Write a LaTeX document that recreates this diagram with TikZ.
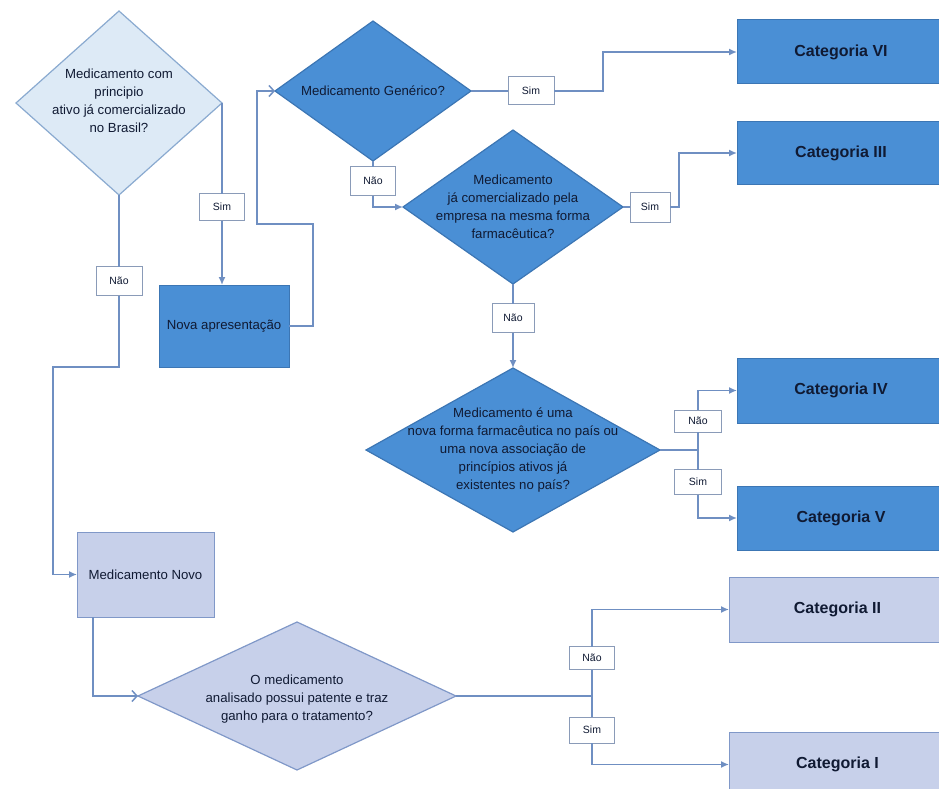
\documentclass[tikz,border=0pt]{standalone}
\usepackage{fontspec}
\setmainfont{Liberation Sans}
\usetikzlibrary{shapes.geometric,arrows.meta}
\definecolor{lightfill}{HTML}{DDEAF6}
\definecolor{lightborder}{HTML}{8AAAD0}
\definecolor{midfill}{HTML}{4A8FD5}
\definecolor{midborder}{HTML}{3C76B4}
\definecolor{lavfill}{HTML}{C7D0EA}
\definecolor{lavborder}{HTML}{8098C8}
\definecolor{linec}{HTML}{6F8FC2}
\definecolor{labborder}{HTML}{8A9BB8}
\definecolor{txtc}{HTML}{101A33}
\begin{document}
\begin{tikzpicture}[x=1pt,y=-1pt,
  dia/.style={diamond, aspect=1, line width=1.2pt, inner sep=0pt, outer sep=0pt},
  txt/.style={align=center, font=\fontsize{13.2}{18}\selectfont, text=txtc, inner sep=0pt},
  midbox/.style={rectangle, draw=midborder, fill=midfill, line width=1pt, inner sep=0pt, outer sep=0pt, text=txtc, font=\fontsize{13.2}{16}\selectfont},
  lavbox/.style={rectangle, draw=lavborder, fill=lavfill, line width=1pt, inner sep=0pt, outer sep=0pt, text=txtc, font=\fontsize{13.2}{16}\selectfont},
  catbox/.style={rectangle, line width=1pt, inner sep=0pt, outer sep=0pt, minimum width=208pt, minimum height=64pt, text=txtc, font=\bfseries\fontsize{16}{18}\selectfont},
  lab/.style={rectangle, draw=labborder, fill=white, line width=1pt, inner sep=0pt, outer sep=0pt, minimum width=45pt, minimum height=27pt, text=txtc, font=\fontsize{10.5}{12}\selectfont},
  conn/.style={draw=linec, line width=1.5pt},
  arr/.style={conn, -{Latex[length=8pt,width=7pt]}},
  oarr/.style={conn, -{Straight Barb[length=5pt,width=11pt]}}
]
\useasboundingbox (0,0) rectangle (939,789);

% top-left decision
\node[dia, fill=lightfill, draw=lightborder, minimum width=206pt, minimum height=184pt,
  label={[txt,yshift=2.5pt]center:{Medicamento com\\principio\\ativo já comercializado\\no Brasil?}}] (d1) at (119,103) {};
\node[lab] (s1) at (222,207) {Sim};
\node[lab, minimum width=46pt, minimum height=29pt] (n1) at (119,281) {Não};
\node[midbox, minimum width=130pt, minimum height=82pt] (nova) at (224,326) {Nova apresentação};

% generic
\node[dia, fill=midfill, draw=midborder, minimum width=196pt, minimum height=140pt,
  label={[txt]center:{Medicamento Genérico?}}] (gen) at (373,91) {};
\node[lab, minimum width=46pt, minimum height=28pt] (s2) at (531,91) {Sim};
\node[catbox, fill=midfill, draw=midborder] (cat6) at (841,52) {Categoria VI};
\node[lab, minimum height=29pt] (n2) at (373,181) {Não};

% d3
\node[dia, fill=midfill, draw=midborder, minimum width=220pt, minimum height=154pt,
  label={[txt]center:{Medicamento\\já comercializado pela\\empresa na mesma forma\\farmacêutica?}}] (d3) at (513,207) {};
\node[lab, minimum width=40pt, minimum height=30pt] (s3) at (650,207) {Sim};
\node[catbox, fill=midfill, draw=midborder, minimum height=63pt] (cat3) at (841,153) {Categoria III};
\node[lab, minimum width=42pt, minimum height=29pt] (n3) at (513,318) {Não};

% d4
\node[dia, fill=midfill, draw=midborder, minimum width=294pt, minimum height=164pt,
  label={[txt]center:{Medicamento é uma\\nova forma farmacêutica no país ou\\uma nova associação de\\princípios ativos já\\existentes no país?}}] (d4) at (513,450) {};
\node[lab, minimum width=47pt, minimum height=22pt] (n4) at (698,421) {Não};
\node[lab, minimum width=47pt, minimum height=25pt] (s4) at (698,482) {Sim};
\node[catbox, fill=midfill, draw=midborder, minimum height=65pt] (cat4) at (841,390.5) {Categoria IV};
\node[catbox, fill=midfill, draw=midborder] (cat5) at (841,518) {Categoria V};

% medicamento novo
\node[lavbox, minimum width=137pt, minimum height=85pt] (nm) at (145.5,574.5) {Medicamento Novo};
\node[dia, fill=lavfill, draw=lavborder, minimum width=318pt, minimum height=148pt,
  label={[txt,yshift=-3pt]center:{O medicamento\\analisado possui patente e traz\\ganho para o tratamento?}}] (d5) at (297,696) {};
\node[lab, minimum height=23pt] (n5) at (592,658) {Não};
\node[lab, minimum height=26pt] (s5) at (592,730) {Sim};
\node[catbox, fill=lavfill, draw=lavborder, minimum width=217pt, minimum height=65pt] (cat2) at (837.5,609.5) {Categoria II};
\node[catbox, fill=lavfill, draw=lavborder, minimum width=217pt, minimum height=65pt] (cat1) at (837.5,764.5) {Categoria I};

% coordinates
\coordinate (k1) at (313,224);
\coordinate (k2) at (257,224);
\coordinate (k3) at (603,52);
\coordinate (k4) at (679,153);
\coordinate (k5) at (53,367);
\coordinate (j4) at (698,450);
\coordinate (j5) at (592,696);

% connectors
\draw[conn] (d1.east) -- (s1.north);
\draw[arr] (s1.south) -- (s1.south |- nova.north);
\draw[oarr] (nova.east) -| (k1) -- (k2) |- (gen.west);
\draw[conn] (d1.south) -- (n1.north);
\draw[arr] (n1.south) |- (k5) |- (nm.west);

\draw[conn] (gen.east) -- (s2.west);
\draw[arr] (s2.east) -| (k3) -- (cat6.west);
\draw[conn] (gen.south) -- (n2.north);
\draw[arr] (n2.south) |- (d3.west);

\draw[conn] (d3.east) -- (s3.west);
\draw[arr] (s3.east) -| (k4) -- (cat3.west);
\draw[conn] (d3.south) -- (n3.north);
\draw[arr] (n3.south) -- (d4.north);

\draw[conn] (d4.east) -- (j4) -- (n4.south);
\draw[arr] (n4.north) |- (cat4.west);
\draw[conn] (j4) -- (s4.north);
\draw[arr] (s4.south) |- (cat5.west);

\draw[oarr] ([xshift=16pt]nm.south west) |- (d5.west);
\draw[conn] (d5.east) -- (j5) -- (n5.south);
\draw[arr] (n5.north) |- (cat2.west);
\draw[conn] (j5) -- (s5.north);
\draw[arr] (s5.south) |- (cat1.west);
\end{tikzpicture}
\end{document}
